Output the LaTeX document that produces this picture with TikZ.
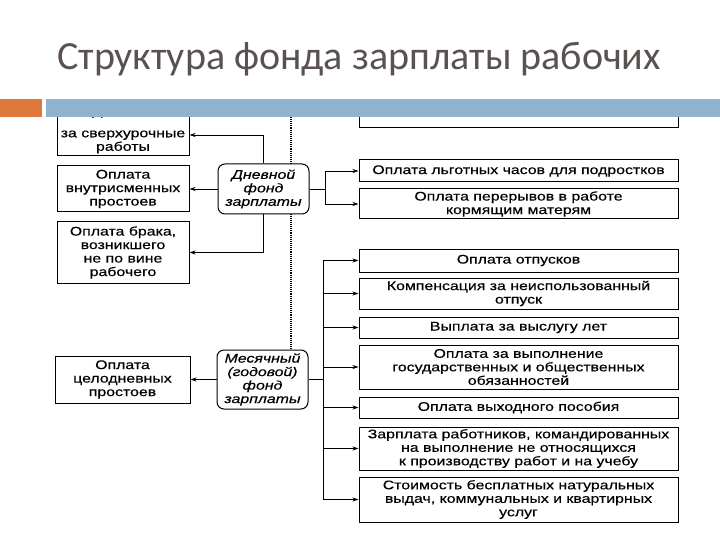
\documentclass[tikz,border=0pt]{standalone}
\usepackage{fontspec}
\setmainfont{Liberation Sans}
\newfontfamily\titlefont{Carlito}
\newfontfamily\dg[FakeStretch=1.27,FakeBold=0.4]{Liberation Sans}
\usetikzlibrary{arrows.meta,backgrounds,calc}
\definecolor{titlegray}{RGB}{89,82,80}
\definecolor{barblue}{RGB}{145,178,207}
\definecolor{barorange}{RGB}{223,120,60}
\begin{document}
\begin{tikzpicture}[x=1pt,y=-1pt,
  box/.style={draw,line width=1pt,fill=white,align=center,inner sep=1pt,
    font=\dg\fontsize{12.5}{13.5}\selectfont},
  fund/.style={box,rounded corners=7pt,font=\dg\itshape\fontsize{12.5}{13.5}\selectfont},
  conn/.style={line width=0.9pt},
  arr/.style={conn,-{Stealth[length=6pt,width=4pt]}}]
\useasboundingbox (0,0) rectangle (720,540);

\node[anchor=base west,font=\titlefont\fontsize{40}{42}\selectfont,text=titlegray,inner sep=0pt] (title) at (57,70) {Структура фонда зарплаты рабочих};

% left boxes
\node[box,minimum width=132pt,minimum height=52pt] (b1) at (123,130) {Доплата\\[8.5pt]за сверхурочные\\работы};
\node[box,minimum width=132pt,minimum height=46pt] (b2) at (123,189) {Оплата\\внутрисменных\\простоев};
\node[box,minimum width=132pt,minimum height=61pt] (b3) at (123,252.5) {Оплата брака,\\возникшего\\не по вине\\рабочего};
\node[box,minimum width=135pt,minimum height=47pt] (b4) at (122.5,379.5) {Оплата\\целодневных\\простоев};

% fund nodes
\node[fund,minimum width=91pt,minimum height=50pt] (daily) at (263.5,189) {Дневной\\фонд\\зарплаты};
\node[fund,minimum width=91pt,minimum height=59pt] (monthly) at (262.5,379.5) {Месячный\\(годовой)\\фонд\\зарплаты};

% right boxes
\node[box,minimum width=319pt,minimum height=28pt] (rtop) at (518.5,114) {};
\node[box,minimum width=319pt,minimum height=22pt] (r1) at (518.5,171) {Оплата льготных часов для подростков};
\node[box,minimum width=319pt,minimum height=30pt] (r2) at (518.5,204) {Оплата перерывов в работе\\кормящим матерям};
\node[box,minimum width=319pt,minimum height=23pt] (r3) at (518.5,260.5) {Оплата отпусков};
\node[box,minimum width=319pt,minimum height=31pt] (r4) at (518.5,293.5) {Компенсация за неиспользованный\\отпуск};
\node[box,minimum width=319pt,minimum height=21pt] (r5) at (518.5,327.5) {Выплата за выслугу лет};
\node[box,minimum width=319pt,minimum height=44pt] (r6) at (518.5,367) {Оплата за выполнение\\государственных и общественных\\обязанностей};
\node[box,minimum width=319pt,minimum height=21pt] (r7) at (518.5,407.5) {Оплата выходного пособия};
\node[box,minimum width=319pt,minimum height=43pt] (r8) at (518.5,448.5) {Зарплата работников, командированных\\на выполнение не относящихся\\к производству работ и на учебу};
\node[box,minimum width=319pt,minimum height=45pt] (r9) at (518.5,499.5) {Стоимость бесплатных натуральных\\выдач, коммунальных и квартирных\\услуг};

% dotted separator
\coordinate (dtop) at (291,117);
\begin{scope}[on background layer]
\draw[line width=1.1pt,densely dotted] (dtop) -- (dtop |- monthly.north);
\end{scope}

% left connectors
\draw[arr] (daily.north) -- (daily.north |- 0,135) -- (b1.east |- 0,135);
\draw[arr] (daily.west) -- (b2.east);
\draw[arr] (daily.south) |- (b3.east);
\draw[arr] (monthly.west) -- (b4.east);

% right connectors (daily)
\coordinate (jd) at (325,189);
\draw[conn] (daily.east) -- (jd);
\draw[arr] (jd) |- (r1.west);
\draw[arr] (jd) |- (r2.west);

% right connectors (monthly)
\coordinate (jm) at (323,379.5);
\draw[conn] (monthly.east) -- (jm);
\foreach \r in {r3,r4,r5,r6,r7,r8,r9}{\draw[arr] (jm) |- (\r.west);}

% bars on top
\fill[barorange] (0,99) rectangle (42,117);
\fill[barblue] (46,99) rectangle (720,117);
\end{tikzpicture}
\end{document}
